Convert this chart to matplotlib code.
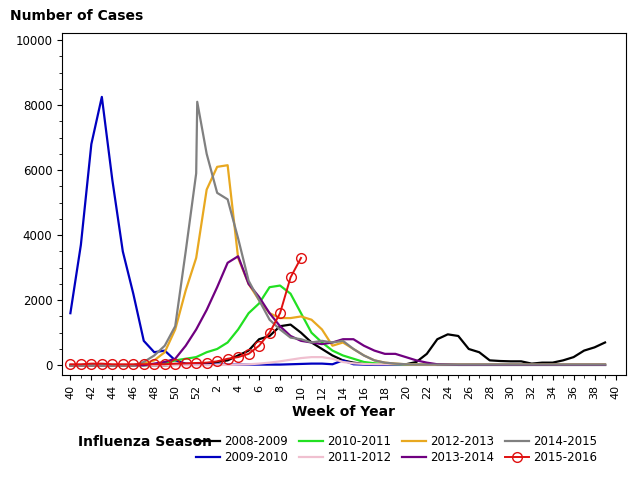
import numpy as np
import matplotlib.pyplot as plt

# weeks 40..52 then 1..40 ; index 0..52
weeks = list(range(40, 53)) + list(range(1, 41))
tick_labels = [str(w) for w in weeks[::2]]

s0809 = [0, 0, 0, 0, 0, 0, 0, 0, 0, 0, 10, 20, 30, 50, 100, 150, 300, 450, 800, 900, 1200, 1250, 1000, 700,
         500, 300, 150, 80, 40, 30, 30, 30, 30, 100, 350, 800, 950, 900, 500, 400, 150, 130, 120, 120, 50,
         80, 80, 150, 250, 450, 550, 700]
s0910 = [1600, 3700, 6800, 8250, 5700, 3500, 2200, 750, 400, 450, 150, 50, 30, 20, 20, 20, 20, 20, 20, 20,
         20, 30, 40, 50, 50, 30, 150, 30, 20, 10, 10, 10, 10, 10, 10, 10, 10, 10, 10, 10, 10, 10, 10, 10,
         10, 10, 10, 10, 10, 10, 10, 10]
s1011 = [0, 0, 0, 0, 0, 0, 0, 0, 20, 50, 150, 200, 250, 400, 500, 700, 1100, 1600, 1900, 2400, 2450, 2200,
         1600, 1000, 700, 450, 300, 200, 100, 60, 40, 30, 20, 20, 20, 10, 10, 10, 10, 10, 10, 10, 10, 10,
         10, 10, 10, 10, 10, 10, 10, 10]
s1112 = [0, 0, 0, 0, 0, 0, 0, 0, 0, 0, 0, 0, 0, 0, 10, 10, 20, 30, 50, 80, 120, 170, 220, 250, 250, 200,
         100, 60, 40, 30, 30, 30, 30, 20, 10, 10, 10, 10, 10, 10, 10, 10, 10, 10, 10, 10, 10, 10, 10, 10,
         10, 10]
s1213 = [0, 0, 0, 0, 0, 0, 0, 50, 150, 400, 1100, 2300, 3300, 5400, 6100, 6150, 3300, 2500, 2000, 1600,
         1450, 1450, 1500, 1400, 1100, 600, 700, 500, 300, 150, 80, 50, 30, 20, 20, 20, 20, 20, 20, 20, 20,
         20, 20, 20, 20, 20, 20, 20, 20, 20, 20, 20]
s1314 = [0, 0, 0, 0, 0, 0, 0, 0, 50, 100, 200, 600, 1100, 1700, 2400, 3150, 3350, 2500, 2100, 1600, 1200,
         900, 750, 700, 650, 700, 800, 800, 600, 450, 350, 350, 250, 150, 80, 30, 20, 10, 10, 10, 10, 10,
         10, 10, 10, 10, 10, 10, 10, 10, 10, 10]
# 2014-2015 has a week 53 right after week 52
x1415 = list(range(0, 13)) + [12.1] + list(range(13, 52))
s1415 = [0, 0, 0, 0, 0, 0, 0, 100, 300, 600, 1200, 3500, 5900, 8100, 6500, 5300, 5100, 3900, 2600, 2000,
         1400, 1100, 850, 800, 700, 750, 700, 750, 500, 300, 150, 80, 50, 30, 20, 20, 20, 20, 20, 20, 20,
         20, 20, 20, 20, 20, 20, 20, 20, 20, 20, 20, 20]
s1516 = [30, 30, 50, 50, 30, 30, 30, 30, 30, 30, 50, 60, 70, 80, 120, 200, 250, 350, 600, 1000, 1600,
         2700, 3300]

fig = plt.figure(figsize=(6.4, 4.8), dpi=100)
ax = fig.add_axes([62 / 640, 105 / 480, 564 / 640, 342 / 480])

ax.plot(range(len(s0809)), s0809, color='black', lw=1.6, label='2008-2009')
ax.plot(range(len(s0910)), s0910, color='#0000c0', lw=1.6, label='2009-2010')
ax.plot(range(len(s1011)), s1011, color='#22e022', lw=1.6, label='2010-2011')
ax.plot(range(len(s1112)), s1112, color='#f0c0d0', lw=1.6, label='2011-2012')
ax.plot(range(len(s1213)), s1213, color='#e8a820', lw=1.6, label='2012-2013')
ax.plot(range(len(s1314)), s1314, color='#700080', lw=1.6, label='2013-2014')
ax.plot(x1415, s1415, color='#808080', lw=1.6, label='2014-2015')
ax.plot(range(len(s1516)), s1516, color='#e01010', lw=1.4, marker='o', ms=7,
        mfc='none', mec='#e01010', label='2015-2016')

ax.set_xlim(-0.8, 53)
ax.set_ylim(-300, 10215)
ax.set_xticks(range(0, 53, 2))
ax.set_xticklabels(tick_labels, rotation=90, fontsize=8)
ax.set_xticks(range(53), minor=True)
ax.set_yticks(range(0, 10001, 2000))
ax.set_yticks(range(0, 10001, 500), minor=True)
ax.tick_params(axis='y', labelsize=8.5)
ax.set_xlabel('Week of Year', fontweight='bold', fontsize=10)
fig.text(10 / 640, 1 - 16 / 480, 'Number of Cases', fontweight='bold', fontsize=10, va='center')

leg = fig.legend(loc='lower left', bbox_to_anchor=(188 / 640, 8 / 480), ncol=4, frameon=False,
                 fontsize=8.5, handlelength=2.0, columnspacing=0.9, handletextpad=0.4,
                 labelspacing=0.25, borderpad=0.2)
fig.text(78 / 640, 1 - 442 / 480, 'Influenza Season', fontweight='bold', fontsize=10, va='center')

fig.savefig('out.png')
